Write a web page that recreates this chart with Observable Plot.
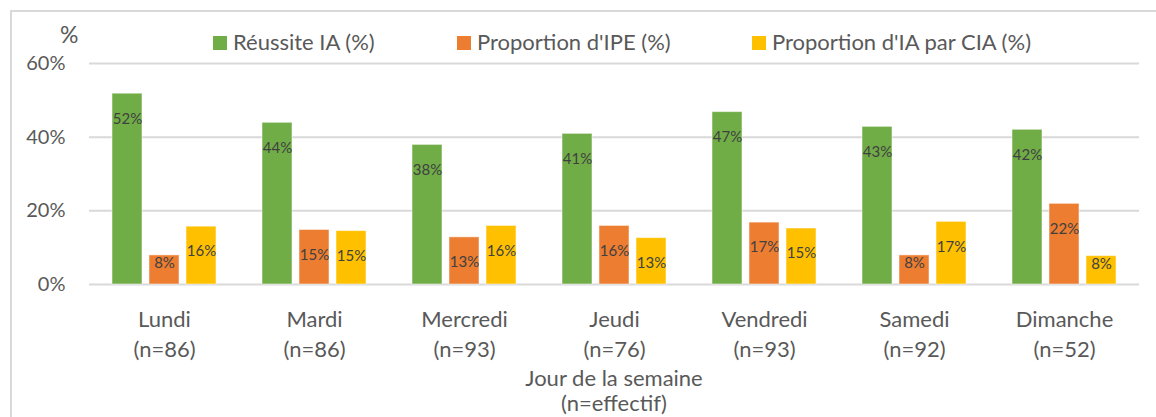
<!DOCTYPE html>
<html>
<head>
<meta charset="utf-8">
<script src="https://cdn.jsdelivr.net/npm/d3@7"></script>
<script src="https://cdn.jsdelivr.net/npm/@observablehq/plot@0.6"></script>
<style>
  html, body { margin: 0; padding: 0; background: #fff; }
  #wrap { position: relative; width: 1156px; height: 417px; overflow: hidden; font-family: Lato, "Open Sans", sans-serif; color: #595959; }
  #frame { position: absolute; left: 10px; top: 10px; width: 1300px; height: 600px; border: 2px solid #d9d9d9; box-sizing: border-box; }
  #chart { position: absolute; left: 0; top: 0; }
  .lg { position: absolute; top: 29px; font-size: 22px; line-height: 26px; white-space: nowrap; }
  .lg i { display: inline-block; width: 14px; height: 14px; margin-right: 6px; vertical-align: 0px; }
  #unit { position: absolute; left: 60px; top: 21px; font-size: 23px; line-height: 26px; }
  #xtitle { position: absolute; left: 88px; width: 1052px; top: 365px; text-align: center; font-size: 22px; line-height: 25px; }
</style>
</head>
<body>
<div id="wrap">
  <div id="frame"></div>
  <div id="chart"></div>
  <div id="unit">%</div>
  <div id="legend"></div>
  <div id="xtitle">Jour de la semaine<br>(n=effectif)</div>
</div>
<script>
const days = ["Lundi", "Mardi", "Mercredi", "Jeudi", "Vendredi", "Samedi", "Dimanche"];
const counts = [86, 86, 93, 76, 93, 92, 52];
const series = ["Réussite IA (%)", "Proportion d'IPE (%)", "Proportion d'IA par CIA (%)"];
const reussite = [51.8, 43.9, 37.9, 40.9, 46.8, 42.8, 42.0];
const ipe = [7.9, 14.8, 12.8, 15.9, 16.8, 7.9, 21.9];
const cia = [15.7, 14.5, 15.9, 12.6, 15.2, 17.0, 7.7];
const yTicks = [0, 20, 40, 60];
const colors = ["#70AD47", "#ED7D31", "#FFC000"];

const valuesBySeries = [reussite, ipe, cia];
const table = [];
days.forEach((day, i) => {
  series.forEach((s, j) => {
    table.push({ day, series: s, value: valuesBySeries[j][i] });
  });
});

const dayLabel = d => d + "\n(n=" + counts[days.indexOf(d)] + ")";

const chart = Plot.plot({
  width: 1156,
  height: 417,
  marginTop: 63,
  marginBottom: 133,
  marginLeft: 88,
  marginRight: 16,
  style: { fontFamily: "Lato, 'Open Sans', sans-serif", fontSize: "20px", color: "#595959", background: "transparent" },
  fx: { domain: days, padding: 0, axis: null },
  x: { domain: series, axis: null, paddingInner: 0.2, paddingOuter: 0.6 },
  y: { domain: [0, 60], ticks: yTicks, tickFormat: d => d + "%", tickSize: 0, tickPadding: 24, label: null },
  color: { domain: series, range: colors },
  marks: [
    Plot.ruleY(yTicks, { stroke: "#d9d9d9", strokeWidth: 2 }),
    Plot.barY(table, { fx: "day", x: "series", y: "value", fill: "series", stroke: "#ffffff", strokeOpacity: 0.5, strokeWidth: 1 }),
    Plot.text(table.filter(d => d.value >= 10), {
      fx: "day", x: "series", y: "value", text: d => Math.round(d.value) + "%",
      dy: 25, fill: "#404040", fontSize: 15
    }),
    Plot.text(table.filter(d => d.value < 10), {
      fx: "day", x: "series", y: "value", text: d => Math.round(d.value) + "%",
      dy: 8, fill: "#404040", fontSize: 15
    }),
    Plot.text(days, {
      fx: d => d, text: dayLabel, frameAnchor: "bottom", lineAnchor: "top",
      dy: 21, lineHeight: 1.36, fontSize: 22, fill: "#595959"
    })
  ]
});
document.getElementById("chart").appendChild(chart);

const legendLeft = [213, 457, 752];
const legend = document.getElementById("legend");
series.forEach((s, j) => {
  const el = document.createElement("div");
  el.className = "lg";
  el.style.left = legendLeft[j] + "px";
  el.innerHTML = '<i style="background:' + colors[j] + '"></i>';
  el.appendChild(document.createTextNode(s));
  legend.appendChild(el);
});
</script>
</body>
</html>
